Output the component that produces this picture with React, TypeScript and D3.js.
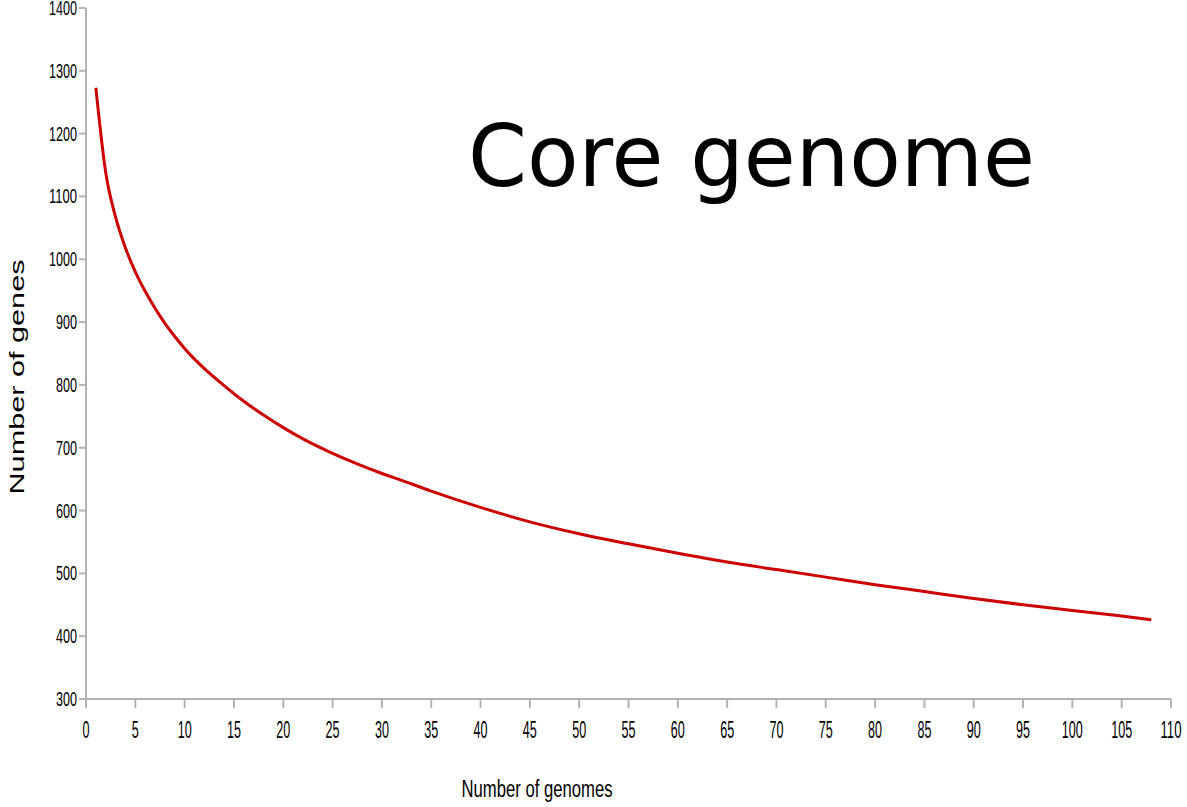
import React from "react";
import * as d3 from "d3";

const genomes = [1, 2, 3, 4, 5, 6, 7, 8, 9, 10, 11, 12, 14, 16, 18, 20, 22, 25, 28, 30, 32, 35, 40, 45, 50, 55, 60, 65, 70, 75, 80, 85, 90, 95, 100, 105, 108];
const coreGenes = [1273, 1138, 1067, 1018, 980, 949, 922, 898, 877, 858, 841, 826, 799, 774, 752, 732, 714, 691, 671, 659, 648, 631, 605, 582, 563, 547, 532, 518, 506, 494, 482, 471, 460, 450, 441, 432, 426];
const xTicks = d3.range(0, 111, 5);
const yTicks = d3.range(300, 1401, 100);
const title = "Core genome";
const xTitle = "Number of genomes";
const yTitle = "Number of genes";

const W = 1187;
const H = 807;
const left = 86;
const right = 1171;
const top = 8;
const bottom = 699;

export default function App() {
  const x = d3.scaleLinear().domain([0, 110]).range([left, right]);
  const y = d3.scaleLinear().domain([300, 1400]).range([bottom, top]);
  const data = genomes.map((g, i) => [g, coreGenes[i]] as [number, number]);
  const line = d3
    .line<[number, number]>()
    .x((d) => x(d[0]))
    .y((d) => y(d[1]))
    .curve(d3.curveMonotoneX);
  const axisColor = "#b3b3b3";
  const tickFont = "'Liberation Sans Narrow', 'Liberation Sans', Arial, sans-serif";
  return (
    <div style={{ position: "fixed", left: 0, top: 0 }}>
      <svg width={W} height={H} style={{ display: "block", background: "#fff" }}>
        <line x1={left} x2={left} y1={top} y2={bottom} stroke={axisColor} strokeWidth={2} />
        <line x1={left} x2={right} y1={bottom} y2={bottom} stroke={axisColor} strokeWidth={2} />
        {yTicks.map((t) => (
          <g key={"y" + t}>
            <line x1={left - 7} x2={left} y1={y(t)} y2={y(t)} stroke={axisColor} strokeWidth={2} />
            <text
              x={77}
              y={y(t) + 7}
              textAnchor="end"
              fontFamily={tickFont}
              fontSize={20}
              fill="#000"
              textLength={String(t).length * 7}
              lengthAdjust="spacingAndGlyphs"
            >
              {t}
            </text>
          </g>
        ))}
        {xTicks.map((t) => (
          <g key={"x" + t}>
            <line x1={x(t)} x2={x(t)} y1={bottom} y2={bottom + 9} stroke={axisColor} strokeWidth={2} />
            <text
              x={x(t)}
              y={738}
              textAnchor="middle"
              fontFamily={tickFont}
              fontSize={23}
              fill="#000"
              textLength={String(t).length * 7}
              lengthAdjust="spacingAndGlyphs"
            >
              {t}
            </text>
          </g>
        ))}
        <path d={line(data) || ""} fill="none" stroke="#cc0000" strokeWidth={3} strokeLinejoin="round" />
        <text
          x={468}
          y={186}
          fontFamily="'DejaVu Sans', sans-serif"
          fontSize={86}
          fill="#000"
          textLength={567}
          lengthAdjust="spacingAndGlyphs"
        >
          {title}
        </text>
        <text
          x={537}
          y={797}
          textAnchor="middle"
          fontFamily={tickFont}
          fontSize={23}
          fill="#000"
          textLength={151}
          lengthAdjust="spacingAndGlyphs"
        >
          {xTitle}
        </text>
        <text
          transform={`translate(24, 377) rotate(-90)`}
          textAnchor="middle"
          fontFamily="'Liberation Sans', Arial, sans-serif"
          fontSize={20}
          fill="#000"
          textLength={235}
          lengthAdjust="spacingAndGlyphs"
        >
          {yTitle}
        </text>
      </svg>
    </div>
  );
}
